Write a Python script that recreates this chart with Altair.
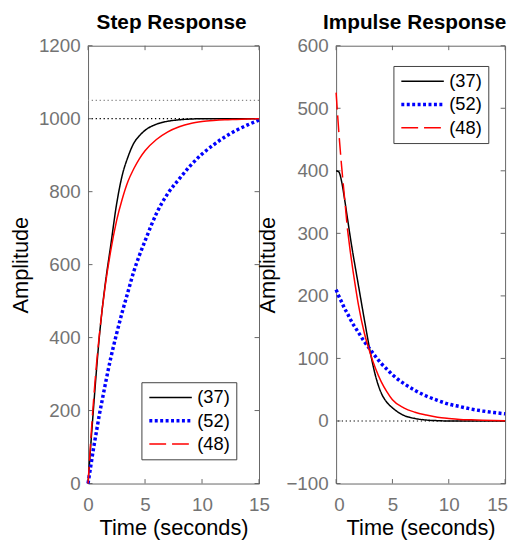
import altair as alt
import pandas as pd

FONT = "Liberation Sans"
FRAME = "#666666"
LABEL_GRAY = "#737373"

# ---- series meta ----
series_names = ["(37)", "(52)", "(48)"]
series_colors = ["#000000", "#0000ff", "#ff0000"]
series_dashes = [[1, 0], [3, 2.5], [17, 6]]
series_widths = [1.5, 3.5, 1.5]

# ---- step response ----
step_t = [0, 0.25, 0.5, 0.75, 1.0, 1.25, 1.5, 2.0, 2.5, 3.0, 3.5, 4.0, 4.5, 5.0,
          6, 7, 8, 9, 10, 11, 12, 13, 14, 15]
step_37 = [0, 110, 215, 315, 405, 480, 545, 655, 765, 845, 895, 932, 953, 968,
           985, 993, 997, 999, 1000, 1000, 1000, 1000, 1000, 1000]
step_52 = [0, 50, 100, 145, 190, 230, 270, 345, 410, 470, 525, 580, 625, 665,
           740, 795, 835, 872, 903, 928, 950, 968, 983, 996]
step_48 = [0, 125, 235, 330, 410, 480, 540, 640, 720, 780, 828, 862, 890, 912,
           943, 964, 978, 987, 992, 995, 997, 998, 999, 1000]

# ---- impulse response ----
imp_t = [0, 0.25, 0.5, 0.75, 1.0, 1.25, 1.5, 1.75, 2.0, 2.5, 3.0, 3.5, 4.0, 4.5, 5.0,
         6, 7, 8, 9, 10, 11, 12, 13, 14, 15]
imp_37 = [400, 398, 382, 355, 325, 295, 267, 241, 215, 163, 113, 72, 45, 30, 21,
          9, 4, 1.5, 0.5, 0, 0, 0, 0, 0, 0]
imp_52 = [210, 199, 190, 180, 172, 163, 155, 148, 141, 127, 115, 103, 92, 83, 74,
          60, 49, 40, 33, 27, 23, 19, 16, 13.5, 11.5]
imp_48 = [525, 460, 405, 357, 308, 272, 240, 211, 184, 141, 110, 84, 63, 47, 34,
          21, 14, 9.5, 6, 4, 2.5, 1.8, 1.2, 0.8, 0.5]

# ---- reference levels and ticks ----
step_ref_black = [1000]
step_ref_gray = [1050]
imp_ref_black = [0]
x_ticks = [0, 5, 10, 15]
step_y_ticks = [0, 200, 400, 600, 800, 1000, 1200]
imp_y_ticks = [-100, 0, 100, 200, 300, 400, 500, 600]

TICK = 4.5


def panel(t, s37, s52, s48, red_cut, ydom, yticks, refs_black, refs_gray,
          title, title_dx, W, H, lx, ly, flush):
    rows = []
    for name, vals in zip(series_names, [s37, s52, s48]):
        for ti, vi in zip(t, vals):
            if name == "(48)" and ti > red_cut:
                continue
            rows.append({"t": ti, "v": vi, "s": name})
    df = pd.DataFrame(rows)
    solid = pd.DataFrame({"t": [ti for ti in t if ti >= red_cut],
                          "v": [vi for ti, vi in zip(t, s48) if ti >= red_cut]})

    xs = alt.Scale(domain=[0, 15], nice=False, zero=False)
    ys = alt.Scale(domain=ydom, nice=False, zero=False)

    legend = alt.Legend(orient="none", legendX=lx, legendY=ly, title=None)
    xax = alt.Axis(values=x_ticks, title="Time (seconds)", labelPadding=12.5,
                   titlePadding=3, format="d", labelFlush=flush,
                   labelFlushOffset=2.5)
    yax = alt.Axis(values=yticks, title="Amplitude", labelPadding=8,
                   titlePadding=6.5, format="d")
    X = alt.X("t:Q", scale=xs, axis=xax)
    Y = alt.Y("v:Q", scale=ys, axis=yax)

    lines = alt.Chart(df).mark_line(interpolate="monotone").encode(
        x=X, y=Y,
        color=alt.Color("s:N", scale=alt.Scale(domain=series_names, range=series_colors),
                        legend=legend),
        strokeDash=alt.StrokeDash("s:N", scale=alt.Scale(domain=series_names, range=series_dashes),
                                  legend=legend),
        strokeWidth=alt.StrokeWidth("s:N", scale=alt.Scale(type="ordinal", domain=series_names,
                                                           range=series_widths),
                                    legend=legend),
    )
    red_solid = alt.Chart(solid).mark_line(interpolate="monotone", color="#ff0000",
                                           strokeWidth=1.5).encode(x=X, y=Y)

    ref_b = alt.Chart(pd.DataFrame({"v": refs_black})).mark_rule(
        color="#000000", strokeWidth=1.2, strokeDash=[1.3, 2.7]).encode(y=Y)
    layers = [ref_b]
    if refs_gray:
        ref_g = alt.Chart(pd.DataFrame({"v": refs_gray})).mark_rule(
            color="#8a8a8a", strokeWidth=1.2, strokeDash=[1.3, 2.7]).encode(y=Y)
        layers.append(ref_g)

    ydf = pd.DataFrame({"v": yticks})
    xdf = pd.DataFrame({"t": x_ticks})
    tl = alt.Chart(ydf).mark_rule(color=FRAME, strokeWidth=1).encode(
        y=Y, x=alt.value(0), x2=alt.value(TICK))
    tr = alt.Chart(ydf).mark_rule(color=FRAME, strokeWidth=1).encode(
        y=Y, x=alt.value(W - TICK), x2=alt.value(W))
    tt = alt.Chart(xdf).mark_rule(color=FRAME, strokeWidth=1).encode(
        x=X, y=alt.value(0), y2=alt.value(TICK))
    tb = alt.Chart(xdf).mark_rule(color=FRAME, strokeWidth=1).encode(
        x=X, y=alt.value(H - TICK), y2=alt.value(H))
    layers += [tl, tr, tt, tb, lines, red_solid]

    return alt.layer(*layers).properties(
        width=W, height=H, title=alt.TitleParams(text=title, dx=title_dx))


left = panel(step_t, step_37, step_52, step_48, 1.25, [0, 1200], step_y_ticks,
             step_ref_black, step_ref_gray, "Step Response", -2, 173, 443, 54, 340.5, False)
right = panel(imp_t, imp_37, imp_52, imp_48, 1.0, [-100, 600], imp_y_ticks,
              imp_ref_black, [], "Impulse Response", -6, 171, 443, 58, 20.5, True)

chart = alt.hconcat(left, right, spacing=78, bounds="flush").resolve_scale(
    y="independent", color="independent", strokeDash="independent",
    strokeWidth="independent"
).resolve_legend(
    color="independent", strokeDash="independent", strokeWidth="independent"
).properties(
    padding={"left": 0, "top": 0, "right": 0, "bottom": 0}
).configure_view(
    stroke=FRAME, strokeWidth=1
).configure_axis(
    labelFont=FONT, labelFontSize=19, labelColor=LABEL_GRAY,
    titleFont=FONT, titleFontSize=22, titleFontWeight="normal", titleColor="#000000",
    ticks=False, domain=False, grid=False,
).configure_title(
    font=FONT, fontSize=21, fontWeight="bold", color="#000000", anchor="middle",
    offset=0, frame="group"
).configure_legend(
    symbolType="stroke", symbolSize=1849, symbolStrokeWidth=1.5, clipHeight=19,
    labelFont=FONT, labelFontSize=18.5, labelColor="#000000", labelOffset=3.5,
    fillColor="#ffffff", strokeColor="#404040", padding=6, rowPadding=4.5,
    labelLimit=200,
)

chart.save("out.html", embed_options={"renderer": "svg", "actions": False})
